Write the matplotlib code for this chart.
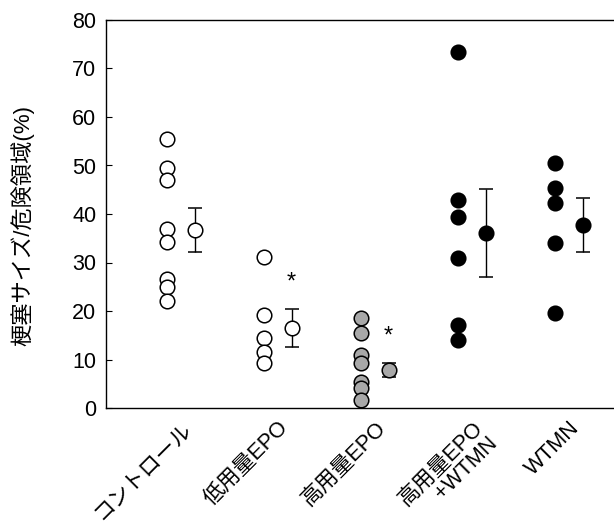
import numpy as np
import matplotlib
matplotlib.use('Agg')
import matplotlib.pyplot as plt

plt.rcParams['font.family'] = ['Liberation Sans', 'Noto Sans CJK JP', 'DejaVu Sans']

# ---------------------------------------------------------
# Datos
# ---------------------------------------------------------
grupos = ['コントロール', '低用量EPO', '高用量EPO', '高用量EPO\n+WTMN', 'WTMN']

control = [55.5, 49.5, 47.0, 37.0, 34.2, 26.5, 25.0, 22.0]
epo_bajo = [31.1, 19.2, 14.4, 11.5, 9.3]
epo_alto = [18.5, 15.5, 11.0, 9.3, 5.4, 4.1, 1.6]
epo_alto_wtmn = [73.4, 42.9, 39.4, 30.9, 17.1, 14.0]
wtmn = [50.5, 45.4, 42.3, 34.0, 19.6]

medias = [36.7, 16.5, 7.8, 36.1, 37.7]
errores = [4.5, 3.9, 1.5, 9.0, 5.5]
significativo = [False, True, True, False, False]

valores = [control, epo_bajo, epo_alto, epo_alto_wtmn, wtmn]
rellenos = ['white', 'white', '#a8a8a8', 'black', 'black']

# ---------------------------------------------------------
# Figura
# ---------------------------------------------------------
fig = plt.figure(figsize=(6.14, 5.21), dpi=100)
ax = fig.add_axes([106 / 614, 113 / 521, 1 - 106 / 614, 388 / 521])

off = 0.14
for i, (vals, color) in enumerate(zip(valores, rellenos)):
    ax.plot([i - off] * len(vals), vals, 'o', ms=10.5, mfc=color, mec='black',
            mew=1.1, clip_on=False, zorder=3)
    ax.errorbar(i + off, medias[i], yerr=errores[i], fmt='o', ms=10.5,
                mfc=color, mec='black', mew=1.1, ecolor='black', elinewidth=1.0,
                capsize=4.8, capthick=1.0, zorder=3)
    if significativo[i]:
        ax.text(i + off, medias[i] + errores[i] + 5.5, '*', ha='center',
                va='center', fontsize=17)

ax.set_xlim(-0.773, 4.464)
ax.set_ylim(0, 80)
ax.set_yticks(range(0, 81, 10))
ax.set_xticks(range(len(grupos)))
ax.set_xticklabels(grupos, rotation=45, ha='right', rotation_mode='anchor',
                   fontsize=15.5, linespacing=1.0)
ax.tick_params(axis='x', length=0, pad=7)
ax.tick_params(axis='y', direction='in', length=4, labelsize=15.5, pad=7)
ax.spines['right'].set_visible(False)
for s in ['left', 'bottom', 'top']:
    ax.spines[s].set_linewidth(1.0)

ax.set_ylabel('梗塞サイズ/危険領域(%)', fontsize=16)
ax.yaxis.set_label_coords(-0.142, 0.47)

fig.savefig('out.png', dpi=100)
